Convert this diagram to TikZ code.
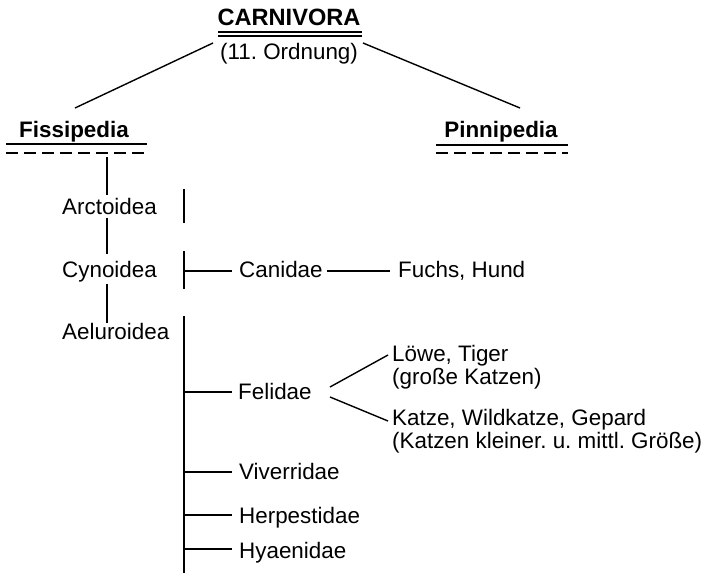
\documentclass[tikz,border=0pt]{standalone}
\usepackage{fontspec}
\setmainfont{Liberation Sans}
\begin{document}
\frenchspacing
\begin{tikzpicture}[x=1pt,y=-1pt,
  txt/.style={font=\fontsize{22.4}{22.5}\selectfont, inner sep=0pt, anchor=base west, align=left},
  ttl/.style={font=\fontsize{22.4}{23}\selectfont\bfseries, inner sep=0pt, anchor=base},
  ln/.style={line width=1.4pt},
  dsh/.style={line width=1.4pt, dash pattern=on 12pt off 6pt}]
\useasboundingbox (0,0) rectangle (714,573);
% title
\node[ttl, font=\fontsize{23.6}{24}\selectfont\bfseries] (carn) at (289,25) {CARNIVORA};
\node[txt, anchor=base] (ord) at (289,59) {(11. Ordnung)};
\draw[ln] (218,32) -- (362,32);
\draw[ln] (218,36) -- (362,36);
\node[ttl] (fiss) at (74,137) {Fissipedia};
\node[ttl] (pinn) at (501,137) {Pinnipedia};
\coordinate (cl) at (213,43);
\coordinate (cr) at (363,43);
\coordinate (fl) at (75,108);
\coordinate (pr) at (520,108);
\draw[ln] (cl) -- (fl);
\draw[ln] (cr) -- (pr);
\draw[ln] (6,144) -- (147,144);
\draw[dsh] (6,153) -- (147,153);
\draw[ln] (436,145) -- (568,145);
\draw[dsh] (436,153) -- (568,153);
% left column
\node[txt] (arct) at (62,214) {Arctoidea};
\node[txt] (cyn) at (62,277) {Cynoidea};
\node[txt] (aelu) at (62,339) {Aeluroidea};
\coordinate (f0) at (107,157);
\draw[ln] (f0) -- (107,195);
\draw[ln] (107,218) -- (107,254);
\draw[ln] (107,284) -- (107,323);
% right column vertical
\draw[ln] (184,189) -- (184,223);
\draw[ln] (184,251) -- (184,289);
\draw[ln] (184,316) -- (184,573);
% Canidae
\node[txt] (can) at (239,277) {Canidae};
\node[txt] (fuchs) at (398,277) {Fuchs, Hund};
\draw[ln] (184,271) -- (232,271);
\draw[ln] (327,271) -- (390,271);
% Felidae
\node[txt] (fel) at (238,399) {Felidae};
\draw[ln] (184,392) -- (232,392);
\node[txt] (loewe) at (392,384) {Löwe, Tiger\\(große Katzen)};
\node[txt] (katze) at (392,448) {Katze, Wildkatze, Gepard\\(Katzen kleiner. u. mittl. Größe)};
\draw[ln] (330,387) -- (388,355);
\draw[ln] (330,397) -- (388,421);
% others
\node[txt] (viv) at (239,479) {Viverridae};
\node[txt] (her) at (239,523) {Herpestidae};
\node[txt] (hya) at (239,558) {Hyaenidae};
\draw[ln] (184,472) -- (232,472);
\draw[ln] (184,515) -- (232,515);
\draw[ln] (184,549) -- (232,549);
\end{tikzpicture}
\end{document}
